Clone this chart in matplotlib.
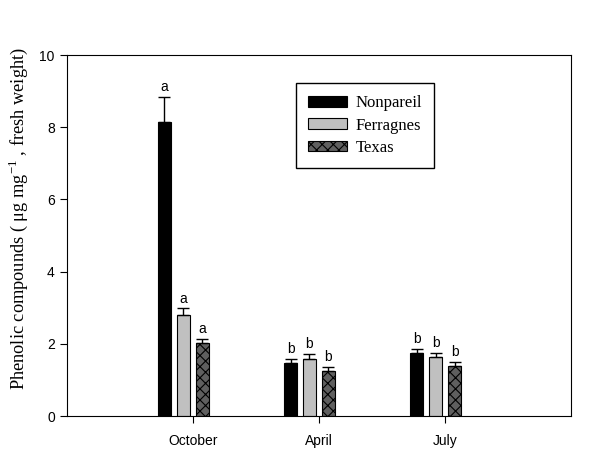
import numpy as np
import matplotlib
matplotlib.use("Agg")
import matplotlib.pyplot as plt

plt.rcParams['font.family'] = ['Liberation Sans', 'DejaVu Sans']
plt.rcParams['mathtext.fontset'] = 'custom'
plt.rcParams['mathtext.rm'] = 'Liberation Serif'
plt.rcParams['hatch.linewidth'] = 0.8

# Data
months = ['October', 'April', 'July']
cultivars = ['Nonpareil', 'Ferragnes', 'Texas']
nonpareil = [8.15, 1.46, 1.75]
nonpareil_err = [0.70, 0.12, 0.12]
ferragnes = [2.80, 1.59, 1.64]
ferragnes_err = [0.18, 0.14, 0.11]
texas = [2.03, 1.25, 1.39]
texas_err = [0.11, 0.10, 0.10]
letters = [['a', 'b', 'b'], ['a', 'b', 'b'], ['a', 'b', 'b']]

colors = ['black', '#c0c0c0', '#5f5f5f']
hatches = [None, None, 'xxx']

fig = plt.figure(figsize=(6, 4.61), dpi=100)
ax = fig.add_axes([0.111, 0.0976, 0.841, 0.783])

x = np.arange(len(months))
offsets = [-0.225, -0.075, 0.075]
width = 0.1
series = [(nonpareil, nonpareil_err), (ferragnes, ferragnes_err), (texas, texas_err)]
for i, (vals, errs) in enumerate(series):
    bars = ax.bar(x + offsets[i], vals, width, color=colors[i], edgecolor='black',
                  linewidth=0.8, hatch=hatches[i], label=cultivars[i], zorder=2)
    ax.errorbar(x + offsets[i], vals, yerr=[np.zeros(len(errs)), errs], fmt='none',
                ecolor='black', elinewidth=1, capsize=4, capthick=1, zorder=3)
    for j in range(len(vals)):
        ax.annotate(letters[i][j], (x[j] + offsets[i], vals[j] + errs[j]),
                    xytext=(0, 2), textcoords='offset points', ha='center',
                    va='bottom', fontsize=10)

ax.set_xlim(-1, 3)
ax.set_ylim(0, 10)
ax.set_xticks(x)
ax.set_xticklabels(months, fontsize=10)
ax.set_yticks(np.arange(0, 11, 2))
ax.tick_params(axis='both', direction='out', length=5, labelsize=10, top=False, right=False)
ax.tick_params(axis='x', pad=8)
ax.set_ylabel('Phenolic compounds ( \u03bcg mg$^{-1}$ , fresh weight)',
              family='Liberation Serif', fontsize=13.2)
ax.yaxis.set_label_coords(-0.072, 0.548)

leg = ax.legend(loc='upper left', bbox_to_anchor=(0.455, 0.922), fancybox=False,
                edgecolor='black', framealpha=1, prop={'family': 'Liberation Serif', 'size': 12},
                handlelength=2.35, handleheight=0.6, labelspacing=0.38, borderpad=0.72,
                handletextpad=0.5, borderaxespad=0)
leg.get_frame().set_linewidth(1)

plt.savefig('out.png', dpi=100)
